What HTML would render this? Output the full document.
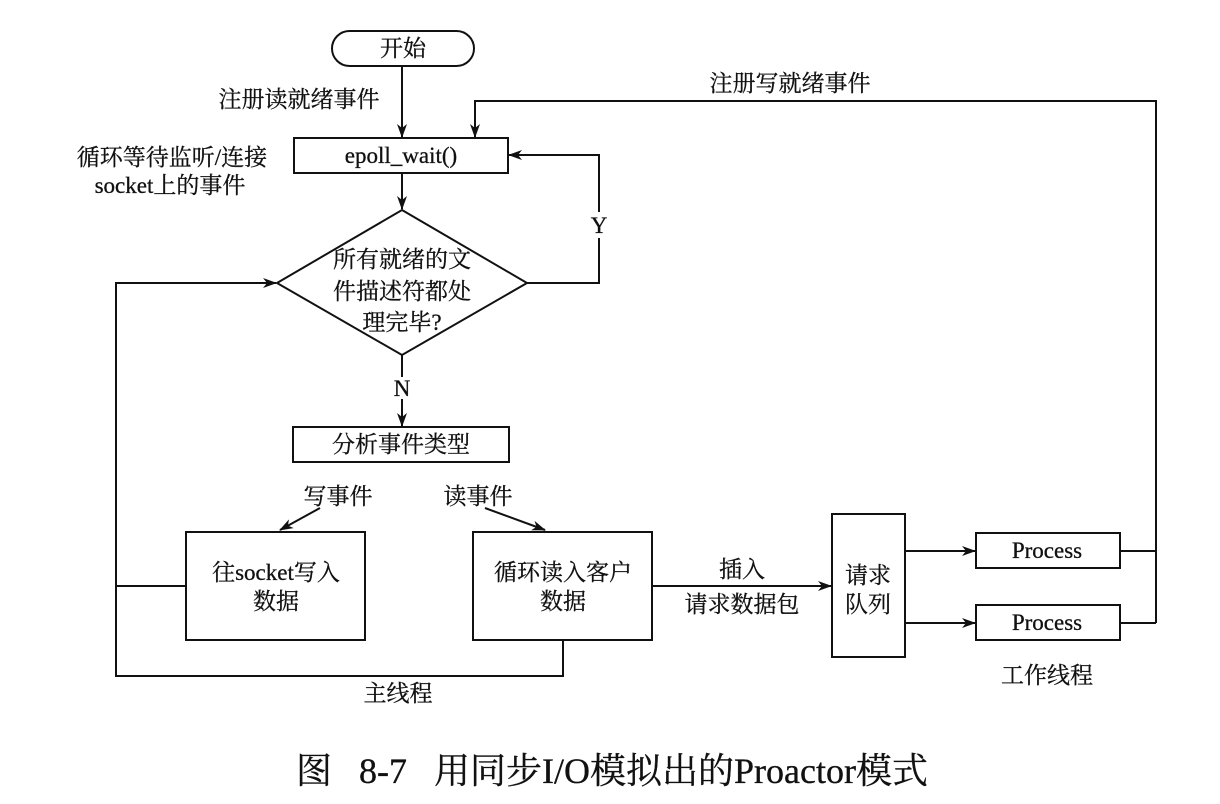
<!DOCTYPE html>
<html><head><meta charset="utf-8"><style>
body{margin:0;background:#fff}
svg text{font-family:"Liberation Serif","Noto Serif CJK SC","Noto Sans CJK SC",serif;fill:#111;stroke:#111;stroke-width:0.3}
</style></head><body>
<svg width="1220" height="799" viewBox="0 0 1220 799" xmlns="http://www.w3.org/2000/svg">
<defs><marker id="a" markerWidth="14" markerHeight="10" refX="13" refY="5" orient="auto" markerUnits="userSpaceOnUse"><path d="M0,0 L14,5 L0,10 L4,5 z" fill="#111"/></marker></defs>
<g stroke="#111" stroke-width="2" fill="none">
<rect x="332" y="31" width="142" height="35" rx="17.5"/>
<line x1="402" y1="66" x2="402" y2="137" marker-end="url(#a)"/>
<rect x="294" y="138" width="214" height="35"/>
<polyline points="1156,623 1156,101 475,101 475,137" marker-end="url(#a)"/>
<line x1="402" y1="173" x2="402" y2="209" marker-end="url(#a)"/>
<polygon points="402,210 527,283 402,355 277,283"/>
<polyline points="527,283 599,283 599,238"/>
<polyline points="599,212 599,155 509,155" marker-end="url(#a)"/>
<line x1="402" y1="355" x2="402" y2="377"/>
<line x1="402" y1="399" x2="402" y2="426" marker-end="url(#a)"/>
<rect x="293" y="427" width="216" height="35"/>
<line x1="320" y1="508" x2="280" y2="530" marker-end="url(#a)"/>
<line x1="485" y1="508" x2="545" y2="530" marker-end="url(#a)"/>
<rect x="186" y="532" width="179" height="108"/>
<rect x="473" y="532" width="179" height="108"/>
<polyline points="186,586 116,586"/>
<polyline points="563,640 563,676 116,676 116,283 276,283" marker-end="url(#a)"/>
<line x1="652" y1="586" x2="831" y2="586" marker-end="url(#a)"/>
<rect x="832" y="514" width="73" height="143"/>
<line x1="905" y1="551" x2="975" y2="551" marker-end="url(#a)"/>
<line x1="905" y1="623" x2="975" y2="623" marker-end="url(#a)"/>
<rect x="976" y="533" width="144" height="35"/>
<rect x="976" y="605" width="144" height="35"/>
<line x1="1120" y1="551" x2="1156" y2="551"/>
<line x1="1120" y1="623" x2="1156" y2="623"/>
</g>
<g font-size="23" text-anchor="middle">
<text x="403" y="56">开始</text>
<text x="401" y="163">epoll_wait()</text>
<text x="402" y="267">所有就绪的文</text>
<text x="402" y="299">件描述符都处</text>
<text x="402" y="330">理完毕?</text>
<text x="599" y="233">Y</text>
<text x="402" y="396">N</text>
<text x="401" y="452">分析事件类型</text>
<text x="338" y="504">写事件</text>
<text x="478" y="504">读事件</text>
<text x="276" y="580">往socket写入</text>
<text x="276" y="609">数据</text>
<text x="563" y="580">循环读入客户</text>
<text x="563" y="609">数据</text>
<text x="742" y="577">插入</text>
<text x="742" y="612">请求数据包</text>
<text x="868" y="583">请求</text>
<text x="868" y="612">队列</text>
<text x="1047" y="558">Process</text>
<text x="1047" y="630">Process</text>
<text x="1047" y="683">工作线程</text>
<text x="398" y="701">主线程</text>
<text x="299" y="107">注册读就绪事件</text>
<text x="790" y="91">注册写就绪事件</text>
<text x="172" y="165">循环等待监听/连接</text>
<text x="170" y="193">socket上的事件</text>
</g>
<text x="612" y="783" font-size="36" text-anchor="middle" xml:space="preserve">图   8-7   用同步I/O模拟出的Proactor模式</text>
</svg>
</body></html>
